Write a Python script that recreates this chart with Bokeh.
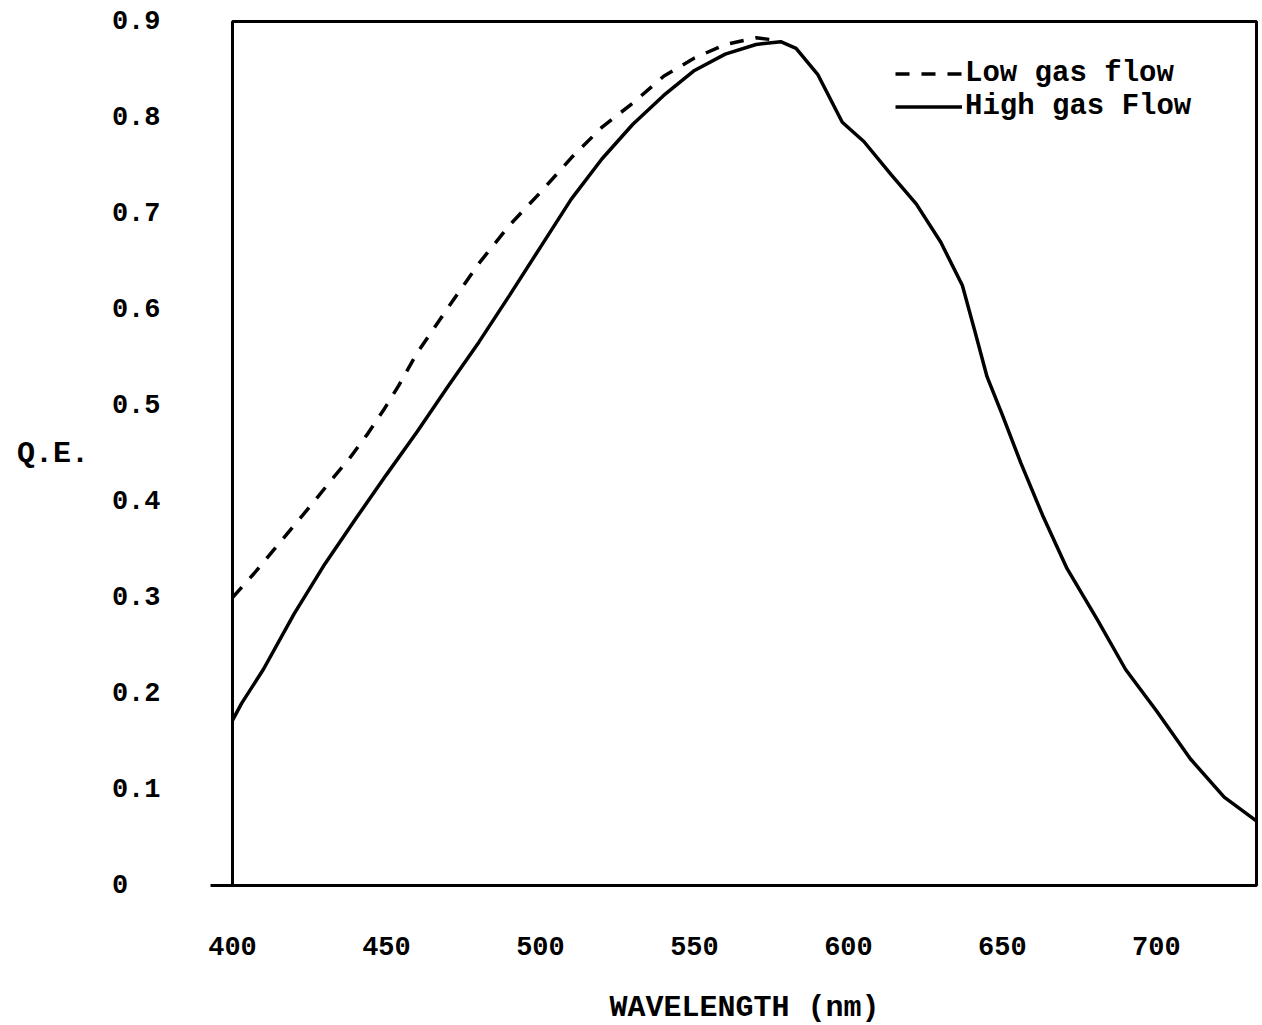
from bokeh.plotting import figure
from bokeh.models import LinearAxis, FixedTicker, Range1d, Legend, LegendItem
from bokeh.embed import file_html
from bokeh.resources import INLINE

# Low gas flow (dashed)
low_wl = [400, 407, 414, 420, 426, 432, 438, 444, 449, 454, 460, 470, 480, 490,
          500, 510, 520, 530, 540, 550, 560, 570, 578]
low_qe = [0.300, 0.325, 0.352, 0.375, 0.398, 0.422, 0.445, 0.471, 0.495, 0.521,
          0.555, 0.602, 0.648, 0.688, 0.722, 0.758, 0.790, 0.815, 0.843, 0.862,
          0.876, 0.883, 0.880]

# High gas flow (solid)
high_wl = [400, 403, 410, 420, 430, 440, 450, 460, 470, 480, 490, 500, 510, 520,
           530, 540, 550, 560, 570, 578, 583, 590, 598, 605, 614, 622, 630, 637,
           641, 645, 650, 656, 663, 671, 681, 690, 700, 711, 722, 733]
high_qe = [0.172, 0.190, 0.225, 0.283, 0.335, 0.382, 0.428, 0.473, 0.520, 0.566,
           0.615, 0.665, 0.715, 0.757, 0.793, 0.823, 0.849, 0.866, 0.876, 0.879,
           0.872, 0.845, 0.795, 0.775, 0.740, 0.710, 0.670, 0.625, 0.578, 0.530,
           0.490, 0.440, 0.386, 0.330, 0.276, 0.225, 0.182, 0.132, 0.092, 0.066]

x_ticks = [400, 450, 500, 550, 600, 650, 700]
y_ticks = [0, 0.1, 0.2, 0.3, 0.4, 0.5, 0.6, 0.7, 0.8, 0.9]
legend_labels = ["Low gas flow", "High gas Flow"]
x_title = "WAVELENGTH (nm)"
y_title = "Q.E."

FONT = "Liberation Mono"

p = figure(frame_width=1024, frame_height=864,
           min_border_left=232, min_border_right=4, min_border_top=21, min_border_bottom=135,
           x_range=Range1d(400, 732.5), y_range=Range1d(0, 0.9),
           y_axis_type=None, output_backend="svg", toolbar_location=None,
           background_fill_color="white", border_fill_color="white")
p.grid.visible = False
p.outline_line_color = "black"
p.outline_line_width = 3
p.outline_line_alpha = 1.0

# x axis
xa = p.xaxis[0]
xa.ticker = FixedTicker(ticks=x_ticks)
xa.axis_line_color = None
xa.major_tick_line_color = None
xa.minor_tick_line_color = None
xa.major_label_standoff = 45
xa.major_label_text_font = FONT
xa.major_label_text_font_style = "bold"
xa.major_label_text_font_size = "27px"
xa.major_label_text_color = "black"
xa.axis_label = x_title
xa.axis_label_standoff = 33
xa.axis_label_text_font = FONT
xa.axis_label_text_font_style = "bold"
xa.axis_label_text_font_size = "30px"
xa.axis_label_text_color = "black"

# small tick at zero on the left
ta = LinearAxis(ticker=FixedTicker(ticks=[0]), axis_line_color=None,
                major_tick_out=22, major_tick_in=0, major_tick_line_width=3,
                major_tick_line_color="black", minor_tick_line_color=None,
                major_label_overrides={0: ""}, major_label_standoff=0)
p.add_layout(ta, "left")

# y axis with labels
ya = LinearAxis(ticker=FixedTicker(ticks=y_ticks), axis_line_color=None,
                major_tick_line_color=None, minor_tick_line_color=None,
                major_tick_out=0, major_tick_in=0)
ya.major_label_overrides = {0: "0\u00a0\u00a0"}
ya.major_label_standoff = 50
ya.major_label_text_font = FONT
ya.major_label_text_font_style = "bold"
ya.major_label_text_font_size = "27px"
ya.major_label_text_color = "black"
ya.axis_label = y_title
ya.axis_label_orientation = "horizontal"
ya.axis_label_standoff = 20
ya.axis_label_text_font = FONT
ya.axis_label_text_font_style = "bold"
ya.axis_label_text_font_size = "30px"
ya.axis_label_text_color = "black"
p.add_layout(ya, "left")

r_low = p.line(low_wl, low_qe, line_color="black", line_width=3.5, line_dash="14 12")
r_high = p.line(high_wl, high_qe, line_color="black", line_width=3.5)

legend = Legend(items=[LegendItem(label=legend_labels[0], renderers=[r_low]),
                       LegendItem(label=legend_labels[1], renderers=[r_high])],
                location=(663, 762), margin=0, padding=0, spacing=0,
                glyph_width=67, glyph_height=31, label_height=31, label_standoff=3,
                label_text_font=FONT, label_text_font_style="bold",
                label_text_font_size="29px", label_text_color="black",
                border_line_color=None, background_fill_alpha=0)
p.add_layout(legend)

open("out.html", "w").write(file_html(p, INLINE))
